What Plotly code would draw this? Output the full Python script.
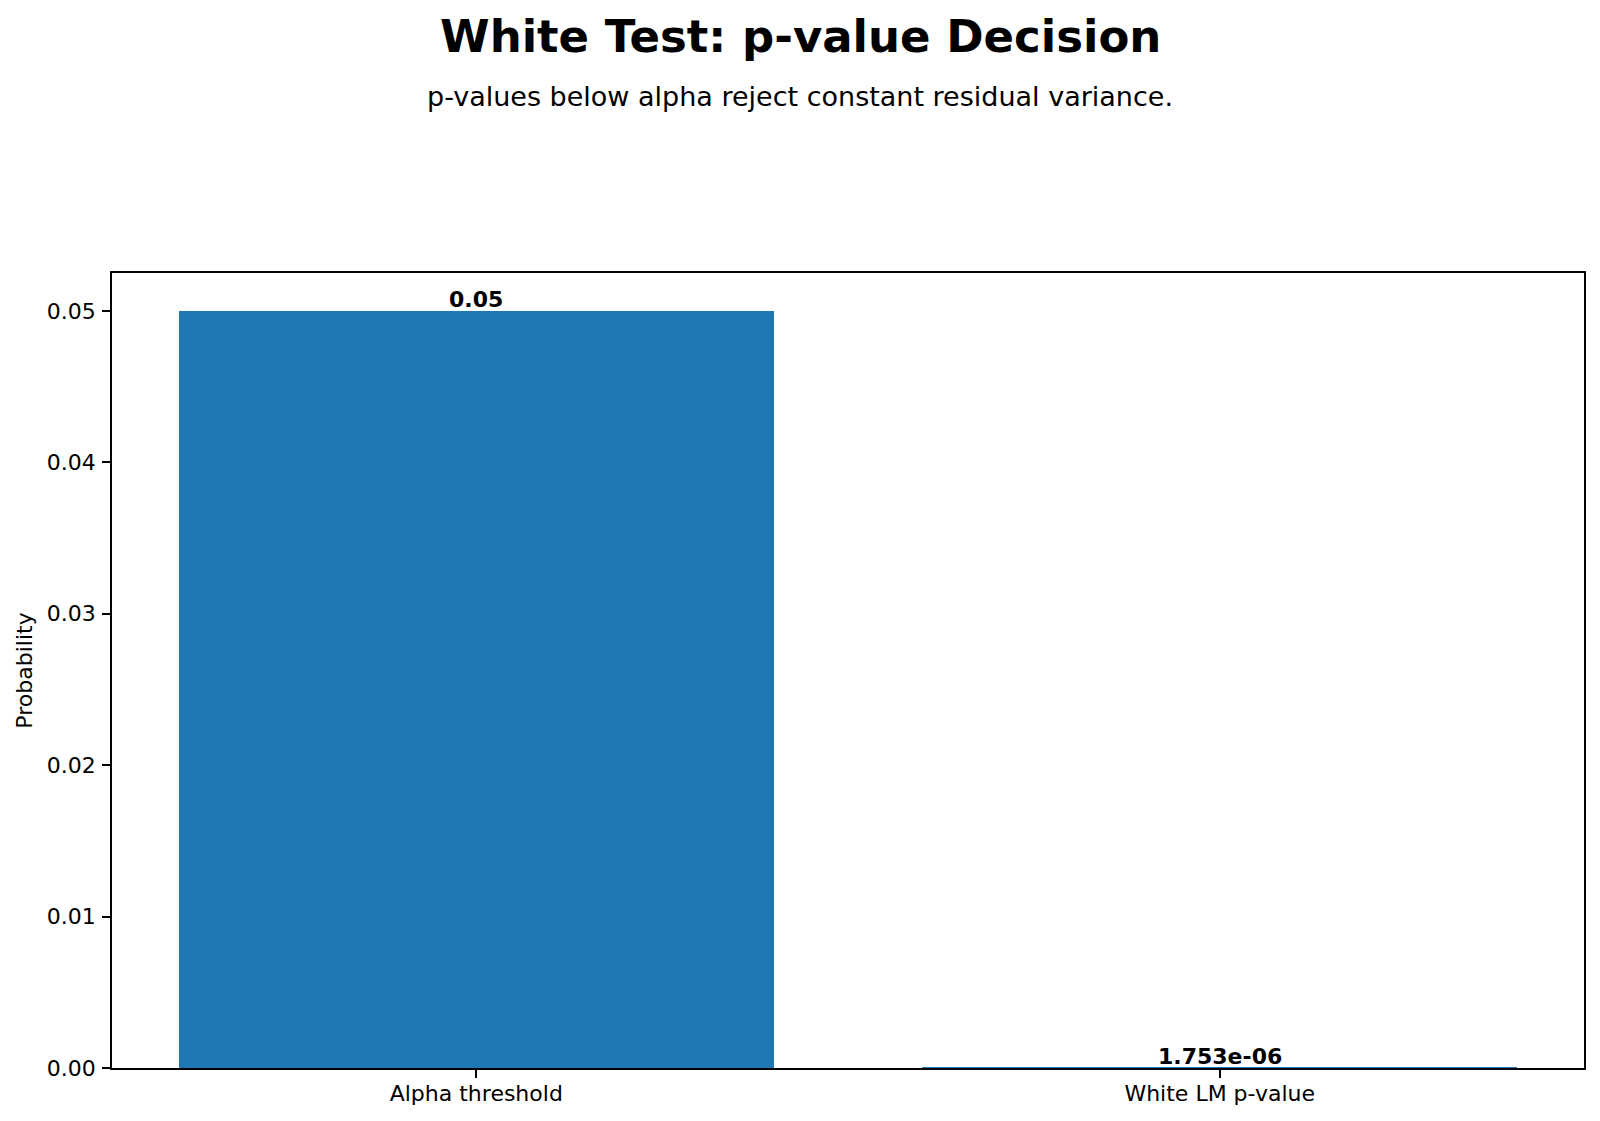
import plotly.graph_objects as go

categories = ["Alpha threshold", "White LM p-value"]
values = [0.05, 1.753e-06]
labels = ["0.05", "1.753e-06"]

title = "White Test: p-value Decision"
subtitle = "p-values below alpha reject constant residual variance."
y_title = "Probability"
y_ticks = [0.0, 0.01, 0.02, 0.03, 0.04, 0.05]

FONT = "DejaVu Sans"
W, H = 1600, 1121
L, R, T, B = 112, 16, 273, 53
plot_h = H - T - B
plot_w = W - L - R
x_idx = list(range(len(categories)))

fig = go.Figure()
fig.add_trace(go.Bar(
    x=x_idx, y=values, width=0.8,
    marker=dict(color="#1f77b4", line=dict(width=0)),
    showlegend=False,
))

for xi, v, lab in zip(x_idx, values, labels):
    fig.add_annotation(x=xi, y=v, text="<b>" + lab + "</b>", showarrow=False,
                       xanchor="center", yanchor="bottom", yshift=-3,
                       font=dict(family=FONT, size=22, color="black"))

def paper_y(px):
    return (H - B - px) / plot_h

center_x = (W / 2 - L) / plot_w

fig.add_annotation(text="<b>" + title + "</b>", x=center_x, y=paper_y(36),
                   xref="paper", yref="paper", xanchor="center", yanchor="middle",
                   showarrow=False, font=dict(family=FONT, size=45, color="black"))
fig.add_annotation(text=subtitle, x=center_x, y=paper_y(96),
                   xref="paper", yref="paper", xanchor="center", yanchor="middle",
                   showarrow=False, font=dict(family=FONT, size=27, color="black"))

fig.update_layout(
    width=W, height=H,
    margin=dict(l=L, r=R, t=T, b=B),
    plot_bgcolor="white", paper_bgcolor="white",
    font=dict(family=FONT, size=22, color="black"),
    bargap=0,
)

fig.update_xaxes(
    range=[-0.49, 1.49], tickmode="array", tickvals=x_idx, ticktext=categories,
    ticks="outside", ticklen=8, tickwidth=1.7, tickcolor="black",
    showline=True, linecolor="black", linewidth=1.7, mirror=True,
    showgrid=False, zeroline=False, tickfont=dict(family=FONT, size=22),
    ticklabelstandoff=-3,
)
fig.update_yaxes(
    range=[0, 0.0525], tickmode="array", tickvals=y_ticks,
    ticktext=[f"{t:.2f}" for t in y_ticks],
    ticks="outside", ticklen=8, tickwidth=1.7, tickcolor="black",
    showline=True, linecolor="black", linewidth=1.7, mirror=True,
    showgrid=False, zeroline=False, tickfont=dict(family=FONT, size=22),
    ticklabelstandoff=2,
    title=dict(text=y_title, font=dict(family=FONT, size=22), standoff=8),
)

fig.write_html("out.html")
